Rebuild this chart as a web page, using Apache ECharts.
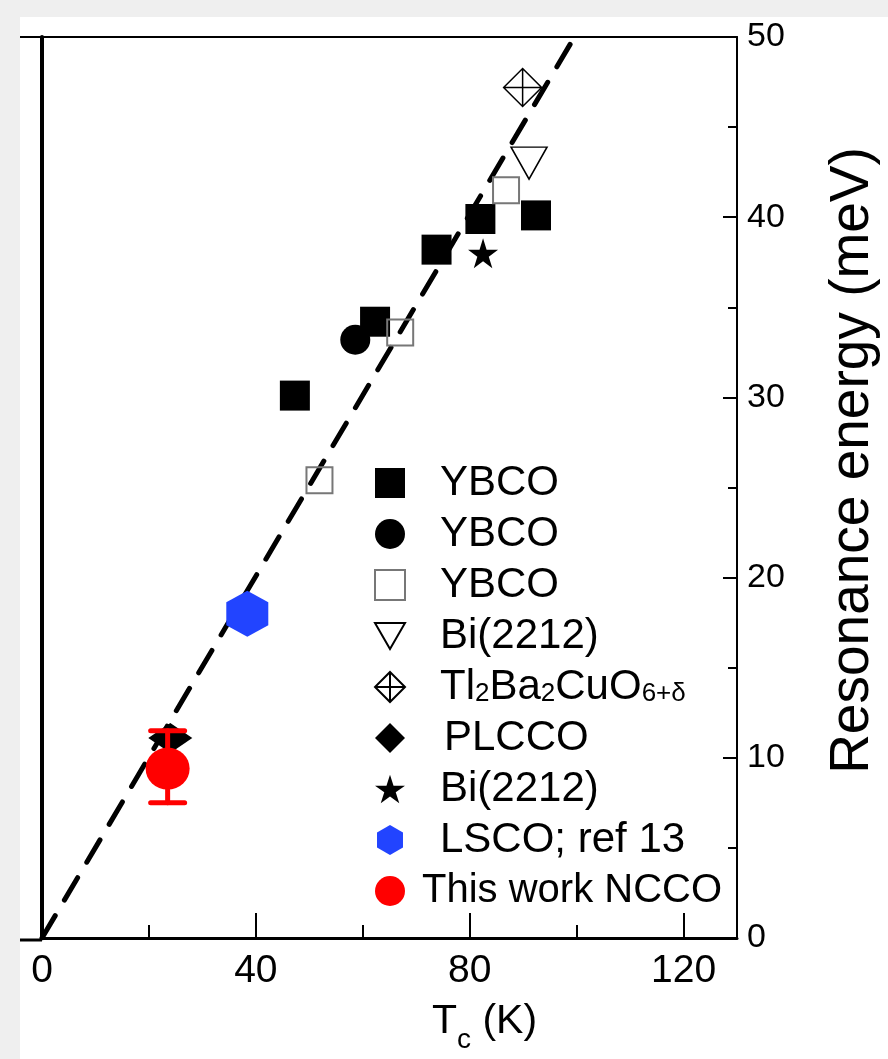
<!DOCTYPE html>
<html>
<head>
<meta charset="utf-8">
<script src="https://cdn.jsdelivr.net/npm/echarts@6/dist/echarts.min.js"></script>
<style>
  html, body { margin: 0; padding: 0; background: #fff; }
  #chart { width: 888px; height: 1059px; }
</style>
</head>
<body>
<div id="chart"></div>
<script>
// ---------------- data ----------------
const xMajorTicks = [0, 40, 80, 120];
const xMinorTicks = [20, 60, 100];
const yMajorTicks = [0, 10, 20, 30, 40, 50];
const yMinorTicks = [5, 15, 25, 35, 45];

// [Tc (K), resonance energy (meV)]
const ybcoFilledSquare = [[47.3, 30.1], [62.3, 34.2], [73.8, 38.2], [82.0, 39.9], [92.4, 40.1]];
const ybcoCircle = [[58.6, 33.2]];
const ybcoOpenSquare = [[51.9, 25.4], [67.0, 33.6], [86.8, 41.5]];
const bi2212Triangle = [[91.1, 43.0]];
const tl2201 = [[89.9, 47.2]];
const plcco = [[24.0, 11.1]];
const bi2212Star = [[82.5, 38.0]];
const lsco = [[38.4, 18.0]];
const nccoThisWork = [[23.5, 9.4]];
const nccoErrorBar = [[23.5, 7.5, 11.5]]; // x, low, high
const fitLine = [[0, 0], [99, 49.7]];

const seriesKeys = ['ybcoSq', 'ybcoCi', 'ybcoOpen', 'biTri', 'tl', 'plcco', 'biStar', 'lsco', 'ncco'];
const legendLabels = ['YBCO', 'YBCO', 'YBCO', 'Bi(2212)', 'Tl{sub|2}Ba{sub|2}CuO{sub|6+δ}', 'PLCCO', 'Bi(2212)', 'LSCO; ref 13', 'This work NCCO'];

// ---------------- chart ----------------
const FONT = '"Liberation Sans", Arial, Helvetica, sans-serif';
const chart = echarts.init(document.getElementById('chart'), null, { renderer: 'canvas' });

const STAR = 'path://M0,-1 L0.2245,-0.309 L0.951,-0.309 L0.363,0.118 L0.588,0.809 L0,0.382 L-0.588,0.809 L-0.363,0.118 L-0.951,-0.309 L-0.2245,-0.309 Z';
const HEX = 'path://M0,-1 L0.866,-0.5 L0.866,0.5 L0,1 L-0.866,0.5 L-0.866,-0.5 Z';
const TRI_DOWN = 'path://M-1,-0.87 L1,-0.87 L0,0.87 Z';
const DIAMOND_CROSS = 'path://M0,-1 L1,0 L0,1 L-1,0 Z M0,-1 L0,1 M-1,0 L1,0';

const labelMap = {};
seriesKeys.forEach((k, i) => { labelMap[k] = legendLabels[i]; });

const legendTextPad = { plcco: [0, 0, 0, 34], ncco: [0, 0, 0, 12] };
const legendData = seriesKeys.map((k) => {
  const item = { name: k };
  if (legendTextPad[k]) {
    item.textStyle = { padding: legendTextPad[k] };
    if (k === 'ncco') item.textStyle.fontSize = 40;
  }
  return item;
});

function scatter(key, data, symbol, size, itemStyle, z) {
  return {
    name: key, type: 'scatter', data: data, symbol: symbol, symbolSize: size,
    itemStyle: Object.assign({ opacity: 1 }, itemStyle), z: z || 3, silent: true,
    xAxisIndex: 0, yAxisIndex: 0
  };
}

const option = {
  animation: false,
  backgroundColor: '#ffffff',
  textStyle: { fontFamily: FONT },
  graphic: [
    { type: 'rect', left: 0, top: 0, shape: { width: 20, height: 1059 }, style: { fill: '#efefef' }, silent: true, z: -10 },
    { type: 'rect', left: 0, top: 0, shape: { width: 888, height: 17 }, style: { fill: '#efefef' }, silent: true, z: -10 },
    { type: 'line', shape: { x1: 20, y1: 37, x2: 42, y2: 37 }, style: { stroke: '#000', lineWidth: 2 }, silent: true },
    { type: 'line', shape: { x1: 20, y1: 940, x2: 42, y2: 940 }, style: { stroke: '#000', lineWidth: 3 }, silent: true }
  ],
  grid: { left: 42, right: 146, top: 37, bottom: 119 },
  xAxis: [
    {
      type: 'value', min: 0, max: 130, position: 'bottom',
      axisLine: { show: true, onZero: false, lineStyle: { color: '#000', width: 3 } },
      axisTick: { show: true, inside: true, length: 25, customValues: xMajorTicks, lineStyle: { color: '#000', width: 2 } },
      axisLabel: { show: true, customValues: xMajorTicks, fontSize: 39, color: '#000', margin: 14, fontFamily: FONT },
      splitLine: { show: false },
      name: 'T{sub|c} (K)', nameLocation: 'middle', nameGap: 52,
      nameTextStyle: {
        fontSize: 41, color: '#000', fontFamily: FONT, padding: [0, 0, 0, 190],
        rich: { sub: { fontSize: 28, color: '#000', fontFamily: FONT, padding: [36, 0, 0, 0] } }
      }
    },
    {
      type: 'value', min: 0, max: 130, position: 'bottom',
      axisLine: { show: false, onZero: false },
      axisTick: { show: true, inside: true, length: 13, customValues: xMinorTicks, lineStyle: { color: '#000', width: 2 } },
      axisLabel: { show: false }, splitLine: { show: false }
    },
    {
      type: 'value', min: 0, max: 130, position: 'top',
      axisLine: { show: true, onZero: false, lineStyle: { color: '#000', width: 2 } },
      axisTick: { show: false }, axisLabel: { show: false }, splitLine: { show: false }
    }
  ],
  yAxis: [
    {
      type: 'value', min: 0, max: 50, position: 'right',
      axisLine: { show: true, onZero: false, lineStyle: { color: '#000', width: 2 } },
      axisTick: { show: true, inside: true, length: 14, customValues: yMajorTicks, lineStyle: { color: '#000', width: 2 } },
      axisLabel: { show: true, customValues: yMajorTicks, fontSize: 34, color: '#000', margin: 10, fontFamily: FONT },
      splitLine: { show: false },
      name: 'Resonance energy (meV)', nameLocation: 'middle', nameRotate: 90, nameGap: 88,
      nameTextStyle: { fontSize: 55, color: '#000', fontFamily: FONT, padding: [0, 0, 0, 54] }
    },
    {
      type: 'value', min: 0, max: 50, position: 'right',
      axisLine: { show: false, onZero: false },
      axisTick: { show: true, inside: true, length: 9, customValues: yMinorTicks, lineStyle: { color: '#000', width: 2 } },
      axisLabel: { show: false }, splitLine: { show: false }
    },
    {
      type: 'value', min: 0, max: 50, position: 'left',
      axisLine: { show: true, onZero: false, lineStyle: { color: '#000', width: 4 } },
      axisTick: { show: false }, axisLabel: { show: false }, splitLine: { show: false }
    }
  ],
  legend: {
    show: true, orient: 'vertical', left: 369, top: 456,
    itemWidth: 30, itemHeight: 30, itemGap: 7,
    data: legendData,
    selectedMode: false,
    formatter: (name) => labelMap[name],
    textStyle: {
      fontSize: 42, lineHeight: 44, color: '#000', fontFamily: FONT, padding: [0, 0, 0, 30],
      rich: { sub: { fontSize: 26, color: '#000', fontFamily: FONT, padding: [14, 0, 0, 0] } }
    }
  },
  series: [
    {
      name: 'fit', type: 'line', data: fitLine, showSymbol: false, symbol: 'none', silent: true, z: 2,
      lineStyle: { color: '#000', width: 5, type: [26, 18], cap: 'round', opacity: 1 }
    },
    scatter('ybcoSq', ybcoFilledSquare, 'rect', 30, { color: '#000' }),
    scatter('ybcoCi', ybcoCircle, 'circle', 30, { color: '#000' }),
    scatter('ybcoOpen', ybcoOpenSquare, 'rect', 26, { color: 'rgba(255,255,255,0)', borderColor: '#777', borderWidth: 2 }),
    scatter('biTri', bi2212Triangle, TRI_DOWN, [36, 32], { color: 'rgba(255,255,255,0)', borderColor: '#000', borderWidth: 1.5 }),
    scatter('tl', tl2201, DIAMOND_CROSS, [38, 38], { color: 'rgba(255,255,255,0)', borderColor: '#000', borderWidth: 1.5 }),
    scatter('plcco', plcco, 'diamond', [44, 30], { color: '#000' }, 2),
    scatter('biStar', bi2212Star, STAR, 30, { color: '#000' }),
    scatter('lsco', lsco, HEX, [42, 46], { color: '#2244ff' }),
    {
      name: 'nccoErr', type: 'custom', data: nccoErrorBar, z: 3, silent: true,
      xAxisIndex: 0, yAxisIndex: 0,
      renderItem: function (params, api) {
        const x = api.value(0), lo = api.value(1), hi = api.value(2);
        const pLo = api.coord([x, lo]);
        const pHi = api.coord([x, hi]);
        const half = 17;
        const st = { stroke: '#ff0000', lineWidth: 5, lineCap: 'round' };
        return {
          type: 'group',
          children: [
            { type: 'line', shape: { x1: pLo[0], y1: pLo[1], x2: pHi[0], y2: pHi[1] }, style: st },
            { type: 'line', shape: { x1: pLo[0] - half, y1: pLo[1], x2: pLo[0] + half, y2: pLo[1] }, style: st },
            { type: 'line', shape: { x1: pHi[0] - half, y1: pHi[1], x2: pHi[0] + half, y2: pHi[1] }, style: st }
          ]
        };
      }
    },
    scatter('ncco', nccoThisWork, 'circle', [44, 42], { color: '#ff0000' }, 4)
  ]
};

chart.setOption(option);
</script>
</body>
</html>
